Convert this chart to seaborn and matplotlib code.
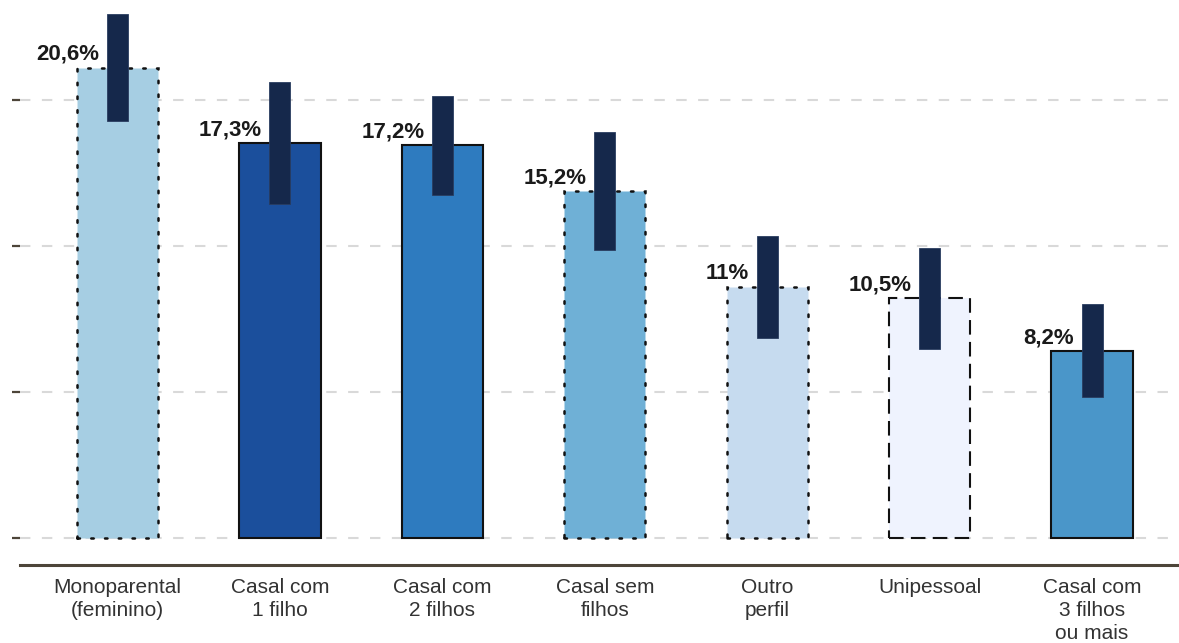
import pandas as pd
import matplotlib.pyplot as plt
import seaborn as sns

# Dados do grafico
categorias = ['Monoparental\n(feminino)', 'Casal com\n1 filho', 'Casal com\n2 filhos',
              'Casal sem\nfilhos', 'Outro\nperfil', 'Unipessoal', 'Casal com\n3 filhos\nou mais']
valores = [20.6, 17.3, 17.2, 15.2, 11.0, 10.5, 8.2]
rotulos = ['20,6%', '17,3%', '17,2%', '15,2%', '11%', '10,5%', '8,2%']
margem = [2.35, 2.68, 2.17, 2.57, 2.22, 2.2, 2.03]
cores = ['#a6cee3', '#1b4f9c', '#2e7bbf', '#6fb0d6', '#c6dbef', '#eff3fe', '#4a96c9']
estilos = ['dotted', 'solid', 'solid', 'dotted', 'dotted', 'dashed', 'solid']
grade = [0, 6.4, 12.8, 19.2]

sns.set_style('white')
plt.rcParams['font.family'] = ['Liberation Sans', 'DejaVu Sans']

df = pd.DataFrame({'perfil': categorias, 'valor': valores})

fig = plt.figure(figsize=(11.79, 6.43), dpi=100)
ax = fig.add_axes([20 / 1179, 78 / 643, 1 - 20 / 1179, 565 / 643])

sns.barplot(data=df, x='perfil', y='valor', hue='perfil', palette=cores, saturation=1,
            width=0.5, legend=False, ax=ax, zorder=2)

traco = {'dotted': (0, (1, 4.5)), 'solid': 'solid', 'dashed': (0, (7, 3.5))}
for patch, est in zip(ax.patches, estilos):
    patch.set_edgecolor('#111111')
    patch.set_linestyle(traco[est])
    patch.set_linewidth(1.8 if est == 'dotted' else 1.5)
    if est == 'dotted':
        patch.set_capstyle('round')

# barras de margem (intervalo)
x = list(range(len(valores)))
ax.bar(x, [2 * m for m in margem], bottom=[v - m for v, m in zip(valores, margem)],
       width=0.13, color='#15284b', edgecolor='#2a3d60', linewidth=0.6, zorder=3)

for i, (v, r) in enumerate(zip(valores, rotulos)):
    ax.annotate(r, (i - 0.11, v), xytext=(0, 2), textcoords='offset points',
                ha='right', va='bottom', fontsize=16, fontweight='bold', color='#1a1a1a', zorder=4)

ax.set_xlim(-0.6, 6.535)
ax.set_ylim(-1.18, 23.56)
ax.set_yticks(grade)
ax.set_yticklabels([])
ax.yaxis.grid(True, color='#d9d9d9', linestyle=(0, (5, 5.5)), linewidth=1.5, zorder=0)
ax.set_axisbelow(True)
ax.tick_params(axis='y', left=True, length=6, width=1.6, color='#4d4539')
ax.tick_params(axis='x', bottom=False, pad=6, labelsize=15, labelcolor='#333333')
for lab in ax.get_xticklabels():
    lab.set_linespacing(1.25)

for s in ['top', 'right', 'left']:
    ax.spines[s].set_visible(False)
ax.spines['bottom'].set_color('#4d4539')
ax.spines['bottom'].set_linewidth(2.2)
ax.set_xlabel('')
ax.set_ylabel('')

plt.savefig('out.png', dpi=100)
